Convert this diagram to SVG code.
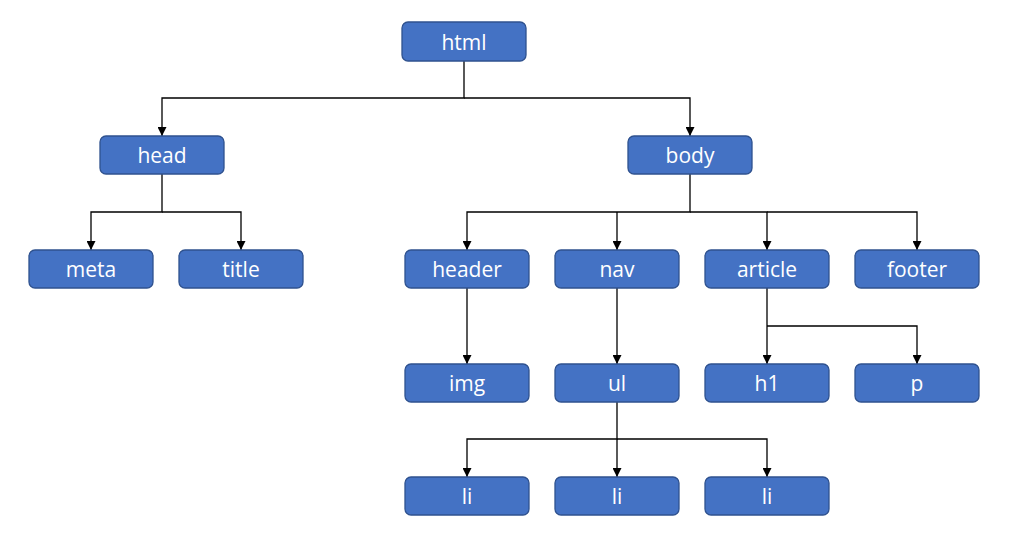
<svg xmlns="http://www.w3.org/2000/svg" width="1020" height="554" viewBox="0 0 1020 554">
<defs>
<style>
.n rect{fill:#4472C4;stroke:#2F528F;stroke-width:1.3}
.n text{fill:#fff;font-family:"Open Sans","Noto Sans",sans-serif;font-size:21px;text-anchor:middle;dominant-baseline:central}
.c path{fill:none;stroke:#000;stroke-width:1.3}
</style>
<marker id="a" viewBox="0 0 10 10" refX="10" refY="5" markerWidth="9" markerHeight="9" markerUnits="userSpaceOnUse" orient="auto">
<path d="M0,0L10,5L0,10Z" fill="#000"/>
</marker>
</defs>
<rect width="1020" height="554" fill="#fff"/>
<g class="c">
<path d="M464,61V98H162V136" marker-end="url(#a)"/>
<path d="M464,98H690V136" marker-end="url(#a)"/>
<path d="M162,174V212H91V250" marker-end="url(#a)"/>
<path d="M162,212H241V250" marker-end="url(#a)"/>
<path d="M690,174V212H467V250" marker-end="url(#a)"/>
<path d="M617,212V250" marker-end="url(#a)"/>
<path d="M690,212H767V250" marker-end="url(#a)"/>
<path d="M767,212H917V250" marker-end="url(#a)"/>
<path d="M467,288V364" marker-end="url(#a)"/>
<path d="M617,288V364" marker-end="url(#a)"/>
<path d="M767,288V364" marker-end="url(#a)"/>
<path d="M767,326H917V364" marker-end="url(#a)"/>
<path d="M617,402V439H467V477" marker-end="url(#a)"/>
<path d="M617,439V477" marker-end="url(#a)"/>
<path d="M617,439H767V477" marker-end="url(#a)"/>
</g>
<g id="html" class="n"><rect x="402" y="22" width="124" height="39" rx="6"/><text x="464" y="41.5">html</text></g>
<g id="head" class="n"><rect x="100" y="136" width="124" height="38" rx="6"/><text x="162" y="155">head</text></g>
<g id="body" class="n"><rect x="628" y="136" width="124" height="38" rx="6"/><text x="690" y="155">body</text></g>
<g id="meta" class="n"><rect x="29" y="250" width="124" height="38" rx="6"/><text x="91" y="269">meta</text></g>
<g id="title" class="n"><rect x="179" y="250" width="124" height="38" rx="6"/><text x="241" y="269">title</text></g>
<g id="header" class="n"><rect x="405" y="250" width="124" height="38" rx="6"/><text x="467" y="269">header</text></g>
<g id="nav" class="n"><rect x="555" y="250" width="124" height="38" rx="6"/><text x="617" y="269">nav</text></g>
<g id="article" class="n"><rect x="705" y="250" width="124" height="38" rx="6"/><text x="767" y="269">article</text></g>
<g id="footer" class="n"><rect x="855" y="250" width="124" height="38" rx="6"/><text x="917" y="269">footer</text></g>
<g id="img" class="n"><rect x="405" y="364" width="124" height="38" rx="6"/><text x="467" y="383">img</text></g>
<g id="ul" class="n"><rect x="555" y="364" width="124" height="38" rx="6"/><text x="617" y="383">ul</text></g>
<g id="h1" class="n"><rect x="705" y="364" width="124" height="38" rx="6"/><text x="767" y="383">h1</text></g>
<g id="p" class="n"><rect x="855" y="364" width="124" height="38" rx="6"/><text x="917" y="383">p</text></g>
<g id="li1" class="n"><rect x="405" y="477" width="124" height="38" rx="6"/><text x="467" y="496">li</text></g>
<g id="li2" class="n"><rect x="555" y="477" width="124" height="38" rx="6"/><text x="617" y="496">li</text></g>
<g id="li3" class="n"><rect x="705" y="477" width="124" height="38" rx="6"/><text x="767" y="496">li</text></g>
</svg>
